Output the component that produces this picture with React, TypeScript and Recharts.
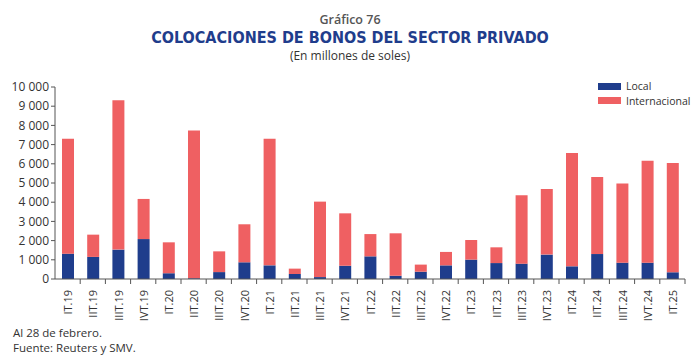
import { BarChart, Bar, XAxis, YAxis } from 'recharts';

const quarters = [
  'IT.19', 'IIT.19', 'IIIT.19', 'IVT.19',
  'IT.20', 'IIT.20', 'IIIT.20', 'IVT.20',
  'IT.21', 'IIT.21', 'IIIT.21', 'IVT.21',
  'IT.22', 'IIT.22', 'IIIT.22', 'IVT.22',
  'IT.23', 'IIT.23', 'IIIT.23', 'IVT.23',
  'IT.24', 'IIT.24', 'IIIT.24', 'IVT.24',
  'IT.25',
];

const local = [
  1320, 1150, 1530, 2080,
  300, 40, 360, 870,
  710, 260, 100, 690,
  1180, 170, 380, 710,
  1010, 830, 800, 1270,
  660, 1300, 850, 850,
  350,
];

const internacional = [
  5990, 1160, 7780, 2090,
  1610, 7690, 1080, 1980,
  6600, 280, 3930, 2730,
  1160, 2210, 370, 700,
  1020, 820, 3560, 3420,
  5900, 4010, 4130, 5310,
  5690,
];

const yTicks = [0, 1000, 2000, 3000, 4000, 5000, 6000, 7000, 8000, 9000, 10000];

const BLUE = '#1f3d8c';
const RED = '#ef6062';
const FONT = '"Open Sans", "Noto Sans", sans-serif';

const data = quarters.map((q, i) => ({ q, local: local[i], internacional: internacional[i] }));

const formatThousands = (v: number) => String(v).replace(/\B(?=(\d{3})+(?!\d))/g, ' ');

const BAND = 630 / quarters.length;

function QuarterTick(props: any) {
  const { x, y, payload } = props;
  return (
    <g>
      <line x1={x + BAND / 2} x2={x + BAND / 2} y1={y - 8} y2={y - 3} stroke="#555" />
      <text
        x={x}
        y={y + 3}
        transform={`rotate(-90, ${x}, ${y + 3})`}
        textAnchor="end"
        dominantBaseline="central"
        fontSize={11}
        fontFamily={FONT}
        fill="#333"
      >
        {payload.value}
      </text>
    </g>
  );
}

export default function App() {
  return (
    <div style={{ position: 'absolute', left: 0, top: 0, width: 700, height: 363, background: '#fff', fontFamily: FONT }}>
      <div style={{ position: 'absolute', top: 11, width: 700, textAlign: 'center', fontSize: 12.5, fontWeight: 600, color: '#555' }}>
        Gráfico 76
      </div>
      <div
        style={{
          position: 'absolute',
          top: 28,
          width: 700,
          textAlign: 'center',
          fontSize: 16,
          fontWeight: 700,
          color: BLUE,
          fontFamily: '"Liberation Sans Narrow", "DejaVu Sans Condensed", Roboto, sans-serif',
        }}
      >
        COLOCACIONES DE BONOS DEL SECTOR PRIVADO
      </div>
      <div style={{ position: 'absolute', top: 47, width: 700, textAlign: 'center', fontSize: 12, color: '#333' }}>
        (En millones de soles)
      </div>

      <div style={{ position: 'absolute', left: 598, top: 79, fontSize: 10.5, color: '#333', lineHeight: '14.5px' }}>
        <div style={{ display: 'flex', alignItems: 'center', height: 14.5 }}>
          <span style={{ width: 23, height: 7, background: BLUE, marginRight: 5 }} />
          Local
        </div>
        <div style={{ display: 'flex', alignItems: 'center', height: 14.5 }}>
          <span style={{ width: 23, height: 7, background: RED, marginRight: 5 }} />
          Internacional
        </div>
      </div>

      <div style={{ position: 'absolute', top: 0, left: 0 }}>
        <BarChart
          width={700}
          height={363}
          data={data}
          margin={{ top: 87, right: 15, bottom: 0, left: 5 }}
          barCategoryGap={0}
        >
          <XAxis
            dataKey="q"
            interval={0}
            tickLine={false}
            axisLine={{ stroke: '#555' }}
            tick={<QuarterTick />}
            height={84}
          />
          <YAxis
            domain={[0, 10000]}
            ticks={yTicks}
            width={50}
            tickSize={4}
            tickLine={{ stroke: '#555' }}
            axisLine={{ stroke: '#555' }}
            tickFormatter={formatThousands}
            tick={{ fontSize: 12, fill: '#333', fontFamily: FONT }}
            interval={0}
          />
          <Bar dataKey="local" stackId="a" fill={BLUE} barSize={12} isAnimationActive={false} />
          <Bar dataKey="internacional" stackId="a" fill={RED} barSize={12} isAnimationActive={false} />
        </BarChart>
      </div>

      <div style={{ position: 'absolute', left: 13, top: 325, fontSize: 11.5, color: '#333', lineHeight: '15px' }}>
        <div>Al 28 de febrero.</div>
        <div>Fuente: Reuters y SMV.</div>
      </div>
    </div>
  );
}
